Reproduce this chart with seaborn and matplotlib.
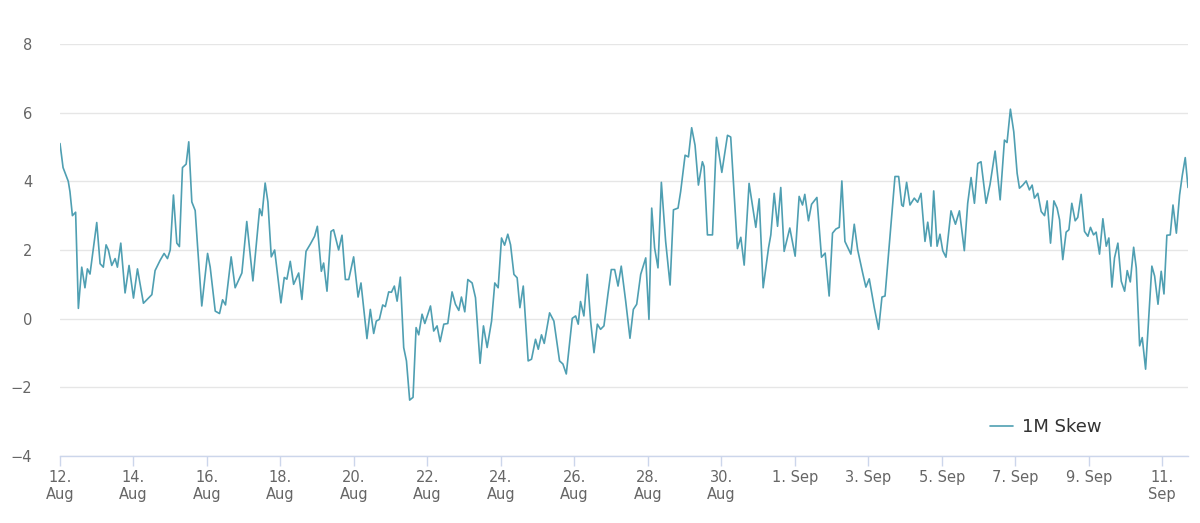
import numpy as np
import pandas as pd
import matplotlib
matplotlib.use("Agg")
import matplotlib.pyplot as plt
import seaborn as sns

# Dados (horas desde 12 Aug 00:00, valor do skew) ------------------------------------------
horas = [
    0, 2, 5.4, 6.5, 8.1, 10.2, 12, 14.2, 16.3, 17.9, 19.6, 24, 26.2, 28.3, 30.1, 31.6, 33.8, 36,
    37.5, 39.7, 42.5, 45.1, 48, 50.6, 54.5, 60, 62.1, 65.4,
    68, 70.2, 72, 74.1, 76.3, 78, 80, 82.4, 84.1, 86.1, 88.3, 89.8, 92.6, 96.4, 98.1, 101.4,
    104.2, 106.2, 108.1, 111.8, 114.4, 118.8, 122, 126, 130.4, 131.9, 134,
    135.8, 138, 140.2, 144.3, 146.5, 148.2, 150.4, 152.6, 155.9, 158, 160.7, 163.5, 166.3, 168.1,
    170.7, 172.2, 174.4, 177, 178.7, 182, 184.2, 186.4, 188.6, 191.8, 194.7, 196.6, 200.5, 202.7,
    204.9, 206.6, 208.6, 210.8, 212.5, 214.7, 216.5, 218.4, 220.2, 222.3, 224.5, 226.3, 228.4,
    230.6, 232.6, 234.3, 236.5, 238.3, 242, 244.1, 246.3, 248.3, 250.7, 253.3, 256.1, 258.3,
    260.5, 262.2, 264.4, 266.4, 269.2, 271.4,
    274.4, 276.6, 279, 281.9, 284, 286.2, 288.4, 290.4, 292.5, 294.3, 296.5, 298.6, 300.4, 302.6,
    305.8, 308, 310.6, 312.4, 314.5, 316.3, 319.8, 322.6, 326.3, 328.5, 330.7, 334.6, 336.8, 338.5, 340,
    342.2, 344.4, 346.6, 348.8, 351, 353.1, 355.3, 357.9, 360.1, 362.3, 364.5, 366.6, 369.5, 372.3,
    374.5, 376.7, 379.3, 382.6, 384.7, 386.5, 388.4, 390.6, 392.8, 395.6, 398.5, 400.7, 403.7, 405.4, 408.3,
    410.5, 412.6, 414.8, 417, 419.6, 420.7, 422.9, 426.2, 428.8, 432.3, 436, 438.1, 439.7, 442.5,
    444.7, 446.9, 450.1, 454.5, 456.7, 459.3, 462.8, 464.3, 466.5, 468.7, 470.8, 473, 476.7,
    480.2, 482.8, 485, 486.5, 488.9, 490.9, 494.4, 497.4, 499.8, 502.4, 504.6, 506.8, 509, 510.7,
    512.7, 516.6, 518.8, 521, 524.3, 526.4, 528.6, 531.9, 534.7, 536.9, 538.9, 542.8, 545.4,
    547.8, 549.8, 550.8, 553, 555.2, 558, 560.2, 562.4, 565, 566.8, 568.9, 570.7, 572.9, 574.8,
    576.6, 578.7, 582, 584.9, 587.5, 590.7, 592.9, 595.1, 597.3, 599.5, 601.6, 604.9, 607.5, 610.8, 614.1,
    616.9, 618.6, 620.8, 623, 625.2, 626.7, 628.9, 631.1, 633.2, 635, 636.5, 638.7, 640.9, 643.1,
    644.8, 647, 649.2, 651.3, 652.9, 655, 657.2, 659, 660.9, 663.1, 664.8, 667, 669.2, 671.4,
    673.1, 675.1, 676.8, 679, 681.2, 683.4,
    685.1, 687.1, 688.8, 691, 693.2, 695.4, 697.1, 699.1, 701.3, 703, 705.2, 706.9, 709.1, 711.3,
    713.2, 715, 717.2, 719.3, 721.1, 723, 725.2, 727, 729.2, 731.3, 733.1, 735, 736.8,
]

skew = [
    5.1, 4.4, 4.0, 3.7, 3.0, 3.1, 0.3, 1.5, 0.9, 1.45, 1.3, 2.8, 1.6, 1.5, 2.15, 2.0, 1.55, 1.75,
    1.5, 2.2, 0.75, 1.55, 0.6, 1.45, 0.45, 0.7, 1.4, 1.7,
    1.9, 1.75, 2.0, 3.6, 2.2, 2.1, 4.4, 4.5, 5.15, 3.4, 3.15, 2.15, 0.37, 1.9, 1.5, 0.22,
    0.15, 0.55, 0.4, 1.8, 0.9, 1.33, 2.83, 1.1, 3.2, 3.0, 3.95,
    3.4, 1.8, 2.0, 0.46, 1.2, 1.15, 1.67, 1.0, 1.33, 0.56, 1.96, 2.17, 2.4, 2.69,
    1.38, 1.62, 0.8, 2.54, 2.59, 2.0, 2.43, 1.14, 1.14, 1.8, 0.63, 1.04, -0.58, 0.27,
    -0.43, -0.07, -0.02, 0.4, 0.35, 0.78, 0.77, 0.95, 0.51, 1.21, -0.84, -1.23, -2.37,
    -2.29, -0.26, -0.47, 0.13, -0.14, 0.37, -0.36, -0.21, -0.67, -0.16, -0.14, 0.78, 0.42,
    0.24, 0.63, 0.2, 1.14, 1.04, 0.61,
    -1.3, -0.21, -0.84, -0.07, 1.04, 0.9, 2.35, 2.14, 2.46, 2.15, 1.29, 1.19, 0.32, 0.95,
    -1.23, -1.18, -0.6, -0.89, -0.47, -0.72, 0.17, -0.07, -1.23, -1.32, -1.61, 0.01, 0.08, -0.16, 0.5,
    0.08, 1.29, -0.07, -0.99, -0.16, -0.31, -0.21, 0.71, 1.43, 1.43, 0.95, 1.53, 0.51, -0.57,
    0.27, 0.42, 1.29, 1.77, -0.02, 3.22, 2.06, 1.48, 3.97, 2.25, 0.98, 3.17, 3.22, 3.7, 4.76,
    4.71, 5.56, 5.05, 3.89, 4.57, 4.43, 2.44, 2.44, 5.28, 4.26, 5.34, 5.29, 4.09, 2.04,
    2.37, 1.56, 3.94, 2.66, 3.49, 0.9, 2.06, 2.44, 3.65, 2.69, 3.82, 1.96, 2.64,
    1.82, 3.56, 3.31, 3.62, 2.85, 3.33, 3.53, 1.79, 1.91, 0.66, 2.49, 2.61, 2.66, 4.01,
    2.25, 1.88, 2.75, 2.01, 1.33, 0.92, 1.16, 0.32, -0.31, 0.63, 0.66, 2.73, 4.14,
    4.14, 3.31, 3.27, 3.97, 3.31, 3.51, 3.39, 3.65, 2.25, 2.81, 2.11, 3.72, 2.11, 2.46,
    1.98, 1.79, 3.14, 2.75, 3.14, 1.98, 3.36, 4.11, 3.36, 4.52, 4.57, 3.36, 3.91, 4.88, 3.46,
    5.2, 5.13, 6.1, 5.44, 4.23, 3.8, 3.89, 4.01, 3.75, 3.89, 3.51, 3.65, 3.12, 3.0,
    3.43, 2.2, 3.43, 3.22, 2.88, 1.72, 2.52, 2.59, 3.36, 2.85, 2.95, 3.62, 2.54, 2.4,
    2.66, 2.44, 2.52, 1.88, 2.91, 2.11,
    2.35, 0.92, 1.77, 2.2, 1.09, 0.8, 1.4, 1.07, 2.08, 1.48, -0.79, -0.55, -1.47, 0.13,
    1.53, 1.24, 0.42, 1.38, 0.72, 2.43, 2.44, 3.31, 2.49, 3.6, 4.18, 4.69, 3.82,
]

inicio = pd.Timestamp("2022-08-12")
ticks_x = pd.date_range(inicio, periods=16, freq="2D")
rotulos_x = ["12.\nAug", "14.\nAug", "16.\nAug", "18.\nAug", "20.\nAug", "22.\nAug",
             "24.\nAug", "26.\nAug", "28.\nAug", "30.\nAug", "1. Sep", "3. Sep",
             "5. Sep", "7. Sep", "9. Sep", "11.\nSep"]
ticks_y = [-4, -2, 0, 2, 4, 6, 8]

df = pd.DataFrame({"data": inicio + pd.to_timedelta(horas, unit="h"), "1M Skew": skew})

# Gráfico ----------------------------------------------------------------------------------
sns.set_theme(style="white")
plt.rcParams["font.family"] = ["DejaVu Sans"]

fig = plt.figure(figsize=(12, 5.23), dpi=100)
ax = fig.add_axes([0.05, 0.128, 0.94, 0.788])

cor = "#4f9fb2"
sns.lineplot(data=df, x="data", y="1M Skew", color=cor, linewidth=1.2, ax=ax, label="1M Skew")

ax.set_xlim(df["data"].iloc[0], df["data"].iloc[-1])
ax.set_ylim(-4, 8)
ax.set_yticks(ticks_y)
ax.set_yticklabels([str(v).replace("-", "\u2212") for v in ticks_y])
ax.set_xticks(ticks_x)
ax.set_xticklabels(rotulos_x)
ax.set_xlabel("")
ax.set_ylabel("")

# Grade horizontal e eixos
ax.grid(axis="y", color="#e6e6e6", linewidth=1)
ax.grid(axis="x", visible=False)
for lado in ["top", "right", "left"]:
    ax.spines[lado].set_visible(False)
ax.spines["bottom"].set_color("#ccd6eb")
ax.spines["bottom"].set_linewidth(1)

ax.tick_params(axis="x", colors="#ccd6eb", length=7, width=1, pad=3, labelcolor="#666666",
               labelsize=10.5, bottom=True)
ax.tick_params(axis="y", length=0, pad=20, labelcolor="#666666", labelsize=10.5)

leg = ax.legend(loc="center", bbox_to_anchor=(0.874, 0.07), frameon=False, fontsize=13,
                handlelength=1.3, handletextpad=0.5)
for t in leg.get_texts():
    t.set_color("#333333")

fig.savefig("out.png", dpi=100)
